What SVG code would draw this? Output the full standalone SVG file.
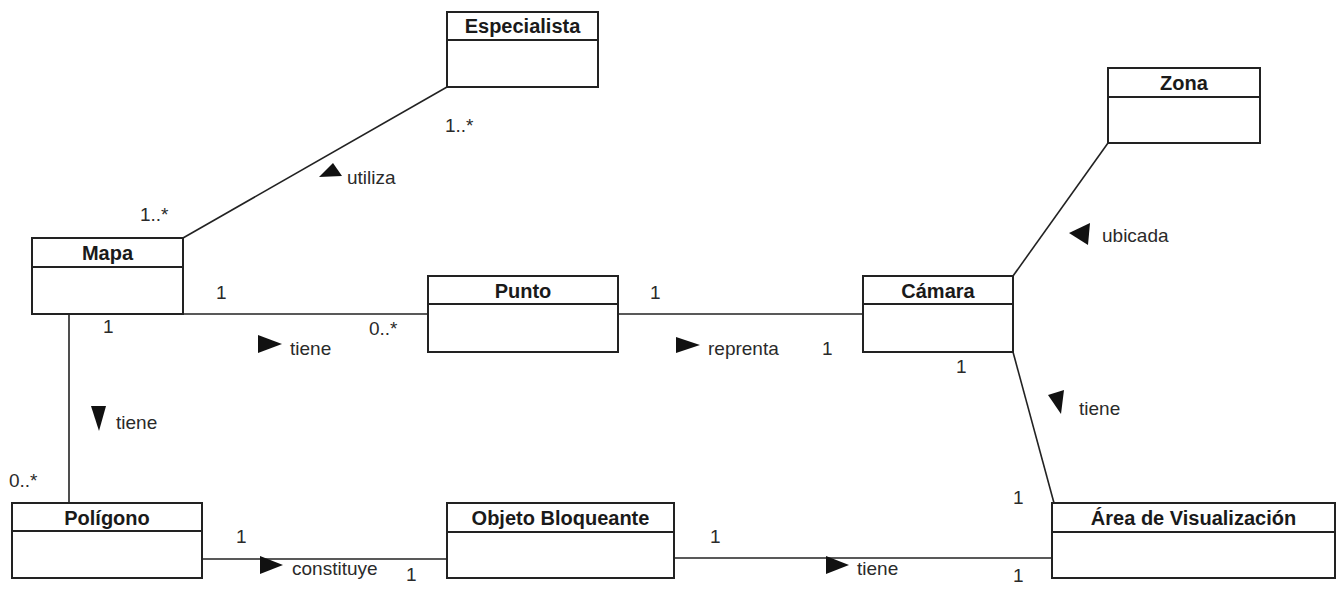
<svg xmlns="http://www.w3.org/2000/svg" width="1337" height="604" viewBox="0 0 1337 604">
<style>
.box{fill:#fff;stroke:#222;stroke-width:2}
.div{stroke:#222;stroke-width:2}
.name{font-family:"Liberation Sans",Arial,sans-serif;font-weight:bold;font-size:20px;fill:#1a1a1a;text-anchor:middle}
.lbl{font-family:"Liberation Sans",Arial,sans-serif;font-size:19px;fill:#2a2a2a}
.con{stroke:#222;stroke-width:1.6;fill:none}
.tri{fill:#111}
</style>
<rect width="1337" height="604" fill="#fff"/>
<g id="connectors">
<line class="con" x1="183" y1="238" x2="447" y2="87"/>
<line class="con" x1="1013" y1="276" x2="1108" y2="143"/>
<line class="con" x1="183" y1="314" x2="428" y2="314"/>
<line class="con" x1="69" y1="314" x2="69" y2="503"/>
<line class="con" x1="618" y1="314" x2="863" y2="314"/>
<line class="con" x1="1013" y1="352" x2="1054" y2="503"/>
<line class="con" x1="202" y1="559" x2="447" y2="559"/>
<line class="con" x1="674" y1="558" x2="1052" y2="558"/>
</g>
<g id="labels">
<text class="lbl" x="445" y="132">1..*</text>
<polygon class="tri" points="319,177 333,163 342,176"/>
<text class="lbl" x="347" y="184">utiliza</text>
<text class="lbl" x="140" y="221">1..*</text>
<text class="lbl" x="216" y="299">1</text>
<text class="lbl" x="103" y="333">1</text>
<text class="lbl" x="369" y="335">0..*</text>
<polygon class="tri" points="258,335 282,344 258,353"/>
<text class="lbl" x="290" y="355">tiene</text>
<text class="lbl" x="650" y="299">1</text>
<polygon class="tri" points="676,337 700,345 676,353"/>
<text class="lbl" x="708" y="355">reprenta</text>
<text class="lbl" x="822" y="355">1</text>
<text class="lbl" x="956" y="373">1</text>
<polygon class="tri" points="1069,233 1090,223 1088,245"/>
<text class="lbl" x="1102" y="242">ubicada</text>
<polygon class="tri" points="1048,395 1064,390 1061,414"/>
<text class="lbl" x="1079" y="415">tiene</text>
<polygon class="tri" points="91,406 106,406 99,431"/>
<text class="lbl" x="116" y="429">tiene</text>
<text class="lbl" x="9" y="487">0..*</text>
<text class="lbl" x="236" y="543">1</text>
<text class="lbl" x="406" y="581">1</text>
<polygon class="tri" points="260,556 283,565 260,574"/>
<text class="lbl" x="292" y="575">constituye</text>
<text class="lbl" x="710" y="543">1</text>
<text class="lbl" x="1013" y="504">1</text>
<text class="lbl" x="1013" y="582">1</text>
<polygon class="tri" points="826,556 849,565 826,574"/>
<text class="lbl" x="857" y="575">tiene</text>
</g>
<g id="Especialista">
<rect class="box" x="447" y="12" width="151" height="75"/>
<line class="div" x1="447" y1="40" x2="598" y2="40"/>
<text class="name" x="522.5" y="33">Especialista</text>
</g>
<g id="Zona">
<rect class="box" x="1108" y="68" width="152" height="75"/>
<line class="div" x1="1108" y1="97" x2="1260" y2="97"/>
<text class="name" x="1184" y="90">Zona</text>
</g>
<g id="Mapa">
<rect class="box" x="32" y="238" width="151" height="76"/>
<line class="div" x1="32" y1="267" x2="183" y2="267"/>
<text class="name" x="107.5" y="260">Mapa</text>
</g>
<g id="Punto">
<rect class="box" x="428" y="276" width="190" height="76"/>
<line class="div" x1="428" y1="304" x2="618" y2="304"/>
<text class="name" x="523" y="298">Punto</text>
</g>
<g id="Camara">
<rect class="box" x="863" y="276" width="150" height="76"/>
<line class="div" x1="863" y1="304" x2="1013" y2="304"/>
<text class="name" x="938" y="298">Cámara</text>
</g>
<g id="Poligono">
<rect class="box" x="12" y="503" width="190" height="75"/>
<line class="div" x1="12" y1="531" x2="202" y2="531"/>
<text class="name" x="107" y="525">Polígono</text>
</g>
<g id="ObjetoBloqueante">
<rect class="box" x="447" y="503" width="227" height="75"/>
<line class="div" x1="447" y1="532" x2="674" y2="532"/>
<text class="name" x="560.5" y="525">Objeto Bloqueante</text>
</g>
<g id="AreaVisualizacion">
<rect class="box" x="1052" y="503" width="283" height="75"/>
<line class="div" x1="1052" y1="532" x2="1335" y2="532"/>
<text class="name" x="1193.5" y="525">Área de Visualización</text>
</g>
</svg>
